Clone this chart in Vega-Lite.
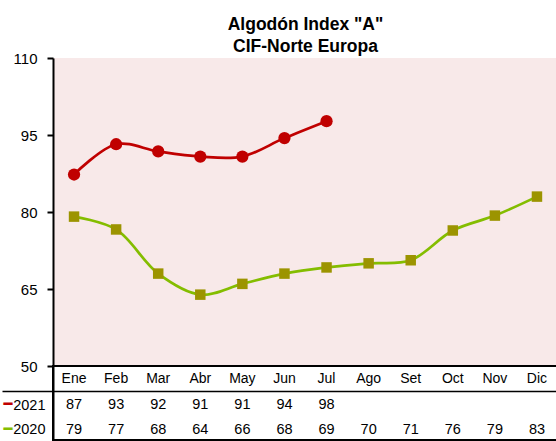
{
  "$schema": "https://vega.github.io/schema/vega-lite/v6.json",
  "padding": {"left": 0, "top": 15, "right": 0, "bottom": 0},
  "background": "white",
  "bounds": "flush",
  "spacing": 0,
  "config": {"font": "Liberation Sans", "view": {"stroke": null}},
  "datasets": {
    "series": [
      {"mes": "Ene", "serie": "2021", "valor": 87.3},
      {"mes": "Feb", "serie": "2021", "valor": 93.2},
      {"mes": "Mar", "serie": "2021", "valor": 91.8},
      {"mes": "Abr", "serie": "2021", "valor": 90.8},
      {"mes": "May", "serie": "2021", "valor": 90.8},
      {"mes": "Jun", "serie": "2021", "valor": 94.4},
      {"mes": "Jul", "serie": "2021", "valor": 97.7},
      {"mes": "Ene", "serie": "2020", "valor": 79.1},
      {"mes": "Feb", "serie": "2020", "valor": 76.6},
      {"mes": "Mar", "serie": "2020", "valor": 68.0},
      {"mes": "Abr", "serie": "2020", "valor": 63.9},
      {"mes": "May", "serie": "2020", "valor": 66.0},
      {"mes": "Jun", "serie": "2020", "valor": 68.0},
      {"mes": "Jul", "serie": "2020", "valor": 69.2},
      {"mes": "Ago", "serie": "2020", "valor": 70.0},
      {"mes": "Set", "serie": "2020", "valor": 70.6},
      {"mes": "Oct", "serie": "2020", "valor": 76.4},
      {"mes": "Nov", "serie": "2020", "valor": 79.3},
      {"mes": "Dic", "serie": "2020", "valor": 83.0}
    ],
    "meses": [
      {"mes": "Ene"}, {"mes": "Feb"}, {"mes": "Mar"}, {"mes": "Abr"},
      {"mes": "May"}, {"mes": "Jun"}, {"mes": "Jul"}, {"mes": "Ago"},
      {"mes": "Set"}, {"mes": "Oct"}, {"mes": "Nov"}, {"mes": "Dic"}
    ]
  },
  "vconcat": [
    {
      "title": {
        "text": ["Algodón Index \"A\"", "CIF-Norte Europa"],
        "fontSize": 17.5, "fontWeight": "bold", "font": "Liberation Sans",
        "color": "black", "lineHeight": 22, "offset": -4, "anchor": "middle"
      },
      "width": 505,
      "height": 308,
      "view": {"fill": "#F8E9E9", "stroke": null},
      "data": {"name": "series"},
      "encoding": {
        "x": {
          "field": "mes", "type": "ordinal",
          "scale": {"domain": ["Ene","Feb","Mar","Abr","May","Jun","Jul","Ago","Set","Oct","Nov","Dic"], "paddingInner": 0, "paddingOuter": 0},
          "axis": null
        },
        "y": {
          "field": "valor", "type": "quantitative",
          "scale": {"domain": [50, 110], "nice": false, "zero": false},
          "axis": {
            "values": [50, 65, 80, 95, 110], "title": null, "grid": false,
            "domainColor": "black", "domainWidth": 2,
            "tickColor": "black", "tickWidth": 2, "tickSize": 6,
            "labelPadding": 10, "labelFontSize": 15, "labelColor": "black", "labelFont": "Liberation Sans"
          }
        }
      },
      "layer": [
        {
          "mark": {"type": "line", "interpolate": "catmull-rom", "strokeWidth": 2.7},
          "encoding": {
            "color": {"field": "serie", "type": "nominal", "scale": {"domain": ["2021", "2020"], "range": ["#C00000", "#84BD00"]}, "legend": null}
          }
        },
        {
          "mark": {"type": "point", "filled": true, "opacity": 1, "strokeWidth": 0},
          "encoding": {
            "fill": {"field": "serie", "type": "nominal", "scale": {"domain": ["2021", "2020"], "range": ["#C00000", "#9C9400"]}, "legend": null},
            "shape": {"field": "serie", "type": "nominal", "scale": {"domain": ["2021", "2020"], "range": ["circle", "square"]}, "legend": null},
            "size": {"field": "serie", "type": "nominal", "scale": {"domain": ["2021", "2020"], "range": [150, 110]}, "legend": null}
          }
        }
      ]
    },
    {
      "width": 505,
      "height": 74,
      "view": {"stroke": "black", "strokeWidth": 2, "fill": "white"},
      "resolve": {"axis": {"y": "independent"}},
      "layer": [
        {
          "data": {"name": "series"},
          "mark": {"type": "text", "fontSize": 14.5, "font": "Liberation Sans", "color": "black", "dy": 2},
          "encoding": {
            "x": {"field": "mes", "type": "ordinal", "scale": {"domain": ["Ene","Feb","Mar","Abr","May","Jun","Jul","Ago","Set","Oct","Nov","Dic"], "paddingInner": 0, "paddingOuter": 0}, "axis": null},
            "y": {
              "field": "serie", "type": "ordinal",
              "scale": {"domain": ["Mes", "2021", "2020"], "paddingInner": 0, "paddingOuter": 0},
              "axis": {
                "orient": "left", "title": null,
                "domain": true, "domainColor": "black", "domainWidth": 2,
                "ticks": true, "tickBand": "extent", "tickSize": 51, "tickWidth": 1.5,
                "tickColor": {"expr": "datum.value === 'Mes' ? 'black' : 'transparent'"},
                "grid": true, "gridWidth": 1.5,
                "gridColor": {"expr": "datum.value === 'Mes' ? 'black' : 'transparent'"},
                "labelExpr": "datum.value === 'Mes' ? '' : datum.value",
                "labelPadding": -43, "labelFontSize": 14.5, "labelColor": "black", "labelFont": "Liberation Sans",
                "labelOffset": 2
              }
            },
            "text": {"field": "valor", "type": "quantitative", "format": ".0f"}
          }
        },
        {
          "data": {"name": "meses"},
          "mark": {"type": "text", "fontSize": 14, "font": "Liberation Sans", "color": "black", "dy": 1},
          "encoding": {
            "x": {"field": "mes", "type": "ordinal", "axis": null},
            "y": {"datum": "Mes", "type": "ordinal", "axis": null},
            "text": {"field": "mes", "type": "nominal"}
          }
        },
        {
          "data": {"name": "series"},
          "mark": {"type": "text", "opacity": 0},
          "encoding": {
            "x": {"field": "mes", "type": "ordinal", "axis": null},
            "y": {
              "field": "serie", "type": "ordinal",
              "axis": {
                "orient": "left", "title": null, "domain": false, "ticks": false, "grid": false,
                "labelExpr": "datum.value === 'Mes' ? '' : '━'",
                "labelPadding": 41, "labelFontSize": 15, "labelFont": "DejaVu Sans",
                "labelOffset": 1,
                "labelColor": {"expr": "datum.value === '2021' ? '#C00000' : '#84BD00'"}
              }
            },
            "text": {"field": "serie", "type": "nominal"}
          }
        }
      ]
    }
  ]
}
